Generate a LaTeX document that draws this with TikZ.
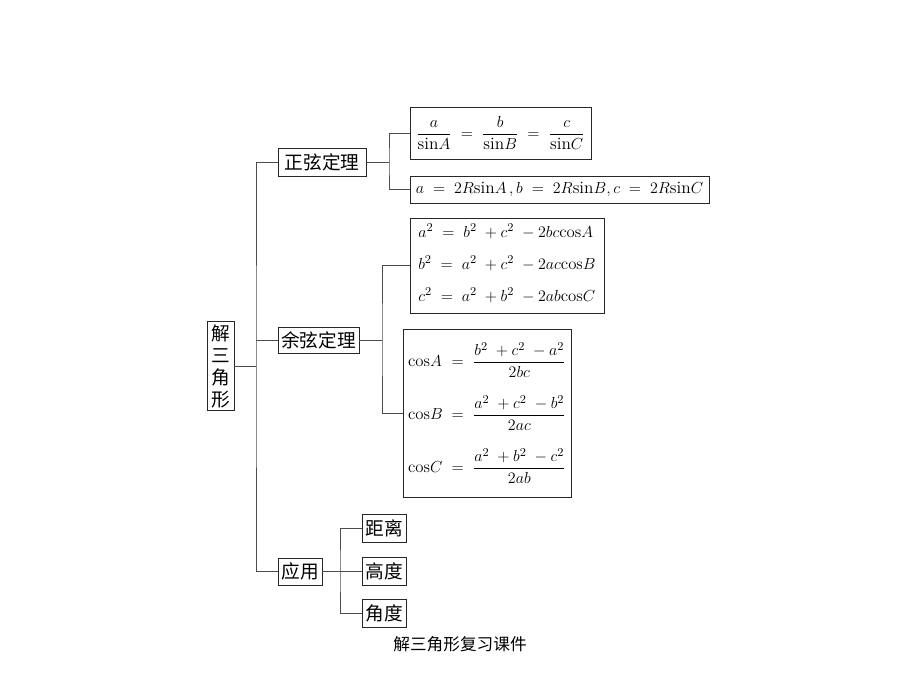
\documentclass[tikz,border=0pt]{standalone}
\usepackage{fontspec}
\usepackage{amsmath}
\newfontfamily\cjk{Noto Sans CJK SC}
\begin{document}
\begin{tikzpicture}[x=0.75pt,y=-0.75pt,
  box/.style={draw=black!85, line width=0.7pt, inner sep=0pt, outer sep=0pt},
  cn/.style={box, font=\cjk\fontsize{14}{16}\selectfont},
  fm/.style={box, font=\fontsize{13}{15}\selectfont},
  fmb/.style={box, font=\fontsize{12.6}{15}\selectfont},
  conn/.style={draw=black!70, line width=0.7pt},
  captext/.style={font=\cjk\fontsize{12.5}{14}\selectfont}]
\useasboundingbox[fill=white] (0,0) rectangle (920,690);
% root
\node[box, font=\cjk\fontsize{14}{16.5}\selectfont, align=center, minimum width=20.25pt, minimum height=66.75pt] (root) at (220.5,366) {解\\三\\角\\形};
% level 1
\node[cn, minimum width=66pt, minimum height=21pt] (zx) at (322,162) {正弦定理};
\node[cn, minimum width=60.75pt, minimum height=19.5pt] (yx) at (318.5,340) {余弦定理};
\node[cn, minimum width=33pt, minimum height=20.25pt] (yy) at (300,571.5) {应用};
% level 2
\node[fm, minimum width=135.75pt, minimum height=39pt] (f1) at (500.5,133)
  {$\dfrac{a}{\mathrm{sin}A} \;=\; \dfrac{b}{\mathrm{sin}B} \;=\; \dfrac{c}{\mathrm{sin}C}$};
\node[fm, minimum width=224.25pt, minimum height=20.25pt] (f2) at (559.5,189.5)
  {$a \;=\; 2R\mathrm{sin}A\,,b \;=\; 2R\mathrm{sin}B,c \;=\; 2R\mathrm{sin}C$};
\node[fmb, minimum width=145.5pt, minimum height=71.25pt] (f3) at (507,265.5)
  {$\begin{array}{@{}l@{}}
   a^2 \;=\; b^2 \;+c^2 \;-2bc\mathrm{cos}A\\[9pt]
   b^2 \;=\; a^2 \;+c^2 \;-2ac\mathrm{cos}B\\[9pt]
   c^2 \;=\; a^2 \;+b^2 \;-2ab\mathrm{cos}C
   \end{array}$};
\node[fmb, minimum width=126pt, minimum height=126pt] (f4) at (487,413)
  {$\begin{array}{@{}l@{\;\;}c@{\;\;}c@{}}
   \mathrm{cos}A & = & \dfrac{b^2\;+c^2\;-a^2}{2bc}\\[17pt]
   \mathrm{cos}B & = & \dfrac{a^2\;+c^2\;-b^2}{2ac}\\[17pt]
   \mathrm{cos}C & = & \dfrac{a^2\;+b^2\;-c^2}{2ab}
   \end{array}$};
\node[cn, minimum width=33pt, minimum height=21pt] (jl) at (384,528) {距离};
\node[cn, minimum width=33pt, minimum height=21pt] (gd) at (384,571.5) {高度};
\node[cn, minimum width=33pt, minimum height=21pt] (jf) at (384,613) {角度};
% junction coordinates
\coordinate (tr) at (256,366);
\coordinate (zxj) at (389,162);
\coordinate (yxj) at (382,340);
\coordinate (yyj) at (340,571.5);
% connectors
\draw[conn] (root.east) -- (tr);
\draw[conn] (zx.west) -| (tr) |- (yy.west);
\draw[conn] (yx.west) -- (yx.west -| tr);
\draw[conn] (zx.east) -- (zxj);
\draw[conn] (f1.west) -| (zxj) |- (f2.west);
\draw[conn] (yx.east) -- (yxj);
\draw[conn] (f3.west) -| (yxj) |- (f4.west);
\draw[conn] (yy.east) -- (gd.west);
\draw[conn] (jl.west) -| (yyj) |- (jf.west);
% caption
\node[captext] (caption) at (460,644) {解三角形复习课件};
\end{tikzpicture}
\end{document}
